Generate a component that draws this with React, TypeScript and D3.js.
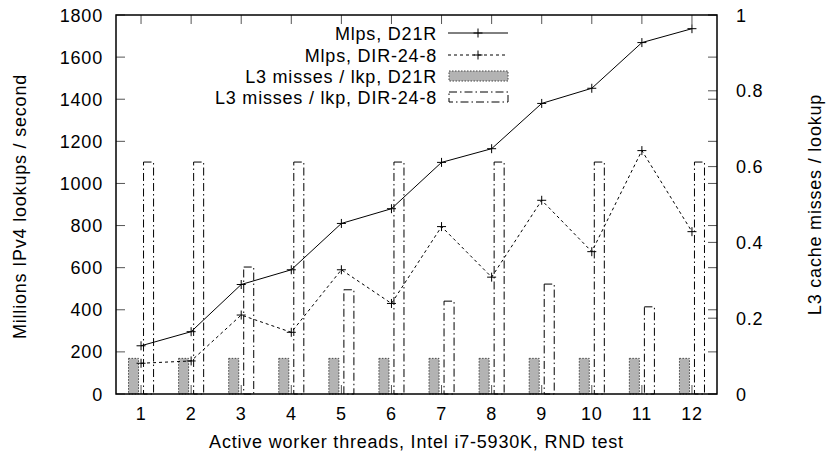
import React from 'react';
import * as d3 from 'd3';

const threads = [1, 2, 3, 4, 5, 6, 7, 8, 9, 10, 11, 12];
const mlpsD21R = [229, 296, 520, 590, 810, 880, 1100, 1165, 1380, 1452, 1669, 1735];
const mlpsDIR248 = [146, 157, 375, 293, 590, 430, 795, 555, 920, 676, 1156, 771];
const l3D21R = [0.094, 0.094, 0.094, 0.094, 0.094, 0.094, 0.094, 0.094, 0.094, 0.094, 0.094, 0.094];
const l3DIR248 = [0.612, 0.612, 0.335, 0.612, 0.275, 0.612, 0.245, 0.612, 0.29, 0.612, 0.23, 0.612];
const yTicks = [0, 200, 400, 600, 800, 1000, 1200, 1400, 1600, 1800];
const y2Ticks = [0, 0.2, 0.4, 0.6, 0.8, 1];
const legendLabels = ['Mlps, D21R', 'Mlps, DIR-24-8', 'L3 misses / lkp, D21R', 'L3 misses / lkp, DIR-24-8'];
const xTitle = 'Active worker threads, Intel i7-5930K, RND test';
const yTitle = 'Millions IPv4 lookups / second';
const y2Title = 'L3 cache misses / lookup';

const FONT = '"Liberation Sans", Arial, Helvetica, sans-serif';

function Plus({ cx, cy }: { cx: number; cy: number }) {
  const s = 4.5;
  return (
    <g stroke="#000" strokeWidth={1}>
      <line x1={cx - s} x2={cx + s} y1={cy} y2={cy} />
      <line x1={cx} x2={cx} y1={cy - s} y2={cy + s} />
    </g>
  );
}

export default function App() {
  const W = 829;
  const H = 461;
  const L = 116, R = 717, T = 15, B = 394;
  const x = d3.scaleLinear().domain([0.5, 12.5]).range([L, R]);
  const y = d3.scaleLinear().domain([0, 1800]).range([B, T]);
  const y2 = d3.scaleLinear().domain([0, 1]).range([B, T]);
  const tick = 9;

  const lineGen = d3
    .line<number>()
    .x((_, i) => x(threads[i]))
    .y((d) => y(d));

  const textStyle: React.CSSProperties = { fontFamily: FONT, fontSize: 18, letterSpacing: 0.8 };
  const fmt2 = (v: number) => (v === 0 ? '0' : v === 1 ? '1' : d3.format('.1f')(v));

  const legX1 = 448, legX2 = 508, legTextX = 437;
  const legY = [33, 55, 76, 97];

  return (
    <svg
      width={W}
      height={H}
      viewBox={`0 0 ${W} ${H}`}
      style={{ position: 'absolute', left: 0, top: 0, background: '#fff' }}
    >
      <rect x={0} y={0} width={W} height={H} fill="#fff" />

      {/* ticks */}
      <g stroke="#555" strokeWidth={1}>
        {threads.map((t) => (
          <g key={'xt' + t}>
            <line x1={x(t)} x2={x(t)} y1={B} y2={B - tick} />
            <line x1={x(t)} x2={x(t)} y1={T} y2={T + tick} />
          </g>
        ))}
        {yTicks.map((v) => (
          <g key={'yt' + v}>
            <line x1={L} x2={L + tick} y1={y(v)} y2={y(v)} />
            <line x1={R} x2={R - tick} y1={y(v)} y2={y(v)} />
          </g>
        ))}
        {y2Ticks.map((v) => (
          <line key={'y2t' + v} x1={R} x2={R - tick} y1={y2(v)} y2={y2(v)} />
        ))}
      </g>

      {/* bars D21R */}
      {l3D21R.map((v, i) => (
        <rect
          key={'b1' + i}
          x={x(threads[i] - 0.25)}
          y={y2(v)}
          width={x(threads[i] - 0.05) - x(threads[i] - 0.25)}
          height={y2(0) - y2(v)}
          fill="#b3b3b3"
          stroke="#444"
          strokeWidth={1}
          strokeDasharray="1.5,1.5"
        />
      ))}
      {/* bars DIR-24-8 */}
      {l3DIR248.map((v, i) => (
        <rect
          key={'b2' + i}
          x={x(threads[i] + 0.05)}
          y={y2(v)}
          width={x(threads[i] + 0.25) - x(threads[i] + 0.05)}
          height={y2(0) - y2(v)}
          fill="none"
          stroke="#000"
          strokeWidth={1}
          strokeDasharray="8,3,1.5,3"
        />
      ))}

      {/* lines */}
      <path d={lineGen(mlpsD21R) || ''} fill="none" stroke="#000" strokeWidth={1} />
      <path d={lineGen(mlpsDIR248) || ''} fill="none" stroke="#000" strokeWidth={1} strokeDasharray="3,3" />
      {mlpsD21R.map((v, i) => (
        <Plus key={'p1' + i} cx={x(threads[i])} cy={y(v)} />
      ))}
      {mlpsDIR248.map((v, i) => (
        <Plus key={'p2' + i} cx={x(threads[i])} cy={y(v)} />
      ))}

      {/* border */}
      <rect x={L} y={T} width={R - L} height={B - T} fill="none" stroke="#000" strokeWidth={1.5} />

      {/* tick labels */}
      <g style={textStyle} fill="#000">
        {threads.map((t) => (
          <text key={'xl' + t} x={x(t)} y={420} textAnchor="middle">
            {t}
          </text>
        ))}
        {yTicks.map((v) => (
          <text key={'yl' + v} x={103} y={y(v) + 6.5} textAnchor="end">
            {v}
          </text>
        ))}
        {y2Ticks.map((v) => (
          <text key={'y2l' + v} x={736} y={y2(v) + 6.5} textAnchor="start">
            {fmt2(v)}
          </text>
        ))}
        <text x={(L + R) / 2} y={448} textAnchor="middle">
          {xTitle}
        </text>
        <text transform={`translate(26,${(T + B) / 2 + 2}) rotate(-90)`} textAnchor="middle">
          {yTitle}
        </text>
        <text transform={`translate(821,${(T + B) / 2}) rotate(-90)`} textAnchor="middle">
          {y2Title}
        </text>
      </g>

      {/* legend */}
      <g style={textStyle} fill="#000">
        {legendLabels.map((l, i) => (
          <text key={'lg' + i} x={legTextX} y={legY[i] + 6.5} textAnchor="end">
            {l}
          </text>
        ))}
      </g>
      <line x1={legX1} x2={legX2} y1={legY[0]} y2={legY[0]} stroke="#000" strokeWidth={1} />
      <Plus cx={(legX1 + legX2) / 2} cy={legY[0]} />
      <line x1={legX1} x2={legX2} y1={legY[1]} y2={legY[1]} stroke="#000" strokeWidth={1} strokeDasharray="3,3" />
      <Plus cx={(legX1 + legX2) / 2} cy={legY[1]} />
      <rect
        x={legX1 + 1}
        y={legY[2] - 5}
        width={legX2 - legX1 - 1}
        height={10}
        fill="#b3b3b3"
        stroke="#444"
        strokeWidth={1}
        strokeDasharray="1.5,1.5"
      />
      <rect
        x={legX1 + 1}
        y={legY[3] - 5}
        width={legX2 - legX1 - 1}
        height={10}
        fill="none"
        stroke="#000"
        strokeWidth={1}
        strokeDasharray="8,3,1.5,3"
      />
    </svg>
  );
}
